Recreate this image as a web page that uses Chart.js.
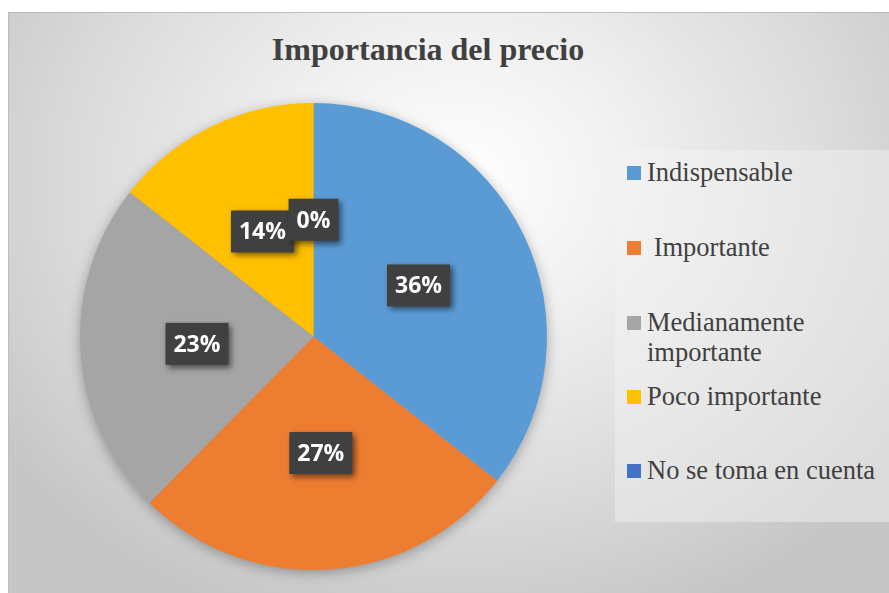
<!DOCTYPE html>
<html>
<head>
<meta charset="utf-8">
<script src="https://cdn.jsdelivr.net/npm/chart.js@4.4.0/dist/chart.umd.min.js"></script>
<style>
  html,body{margin:0;padding:0;background:#fff;width:889px;height:593px;overflow:hidden;}
  #frame{position:absolute;left:8px;top:12px;width:900px;height:600px;border:1px solid #bdbdbd;box-sizing:border-box;
    background:radial-gradient(ellipse 62% 78% at 50% 28%, #ffffff 0%, #f1f1f1 30%, #dadada 70%, #c6c6c6 100%);}
  #title{position:absolute;left:0;width:856px;top:31px;text-align:center;font:bold 32px "Liberation Serif","Times New Roman",serif;color:#404040;}
  #legend{position:absolute;left:615px;top:150px;width:290px;height:372px;background:rgba(244,244,244,0.45);}
  .li{position:absolute;left:0;font:26.5px/30px "Liberation Serif","Times New Roman",serif;color:#404040;white-space:pre-wrap;}
  .li i{position:absolute;left:12px;top:9px;width:14px;height:14px;}
  .li span{position:absolute;left:32px;top:0;width:240px;}
  canvas{position:absolute;left:0;top:0;}
</style>
</head>
<body>
<div id="frame"></div>
<div id="title">Importancia del precio</div>
<div id="legend"></div>
<canvas id="c" width="889" height="593"></canvas>
<script>
// ── data ──
const labels = ['Indispensable', ' Importante', 'Medianamente importante', 'Poco importante', 'No se toma en cuenta'];
const values = [35.6, 26.8, 23.2, 14.4, 0];
const colors = ['#5b9bd5', '#ed7d31', '#a5a5a5', '#ffc000', '#4472c4'];
// legend rows (top offsets inside the legend box)
const legendTops = [7, 82, 157, 231, 305];

// ── html legend ──
const lg = document.getElementById('legend');
labels.forEach((l, i) => {
  const d = document.createElement('div');
  d.className = 'li';
  d.style.top = legendTops[i] + 'px';
  d.innerHTML = `<i style="background:${colors[i]}"></i><span>${l}</span>`;
  lg.appendChild(d);
});

// soft shadow under the whole pie
const pieShadow = {
  id: 'pieShadow',
  beforeDatasetsDraw(chart) {
    const a = chart.getDatasetMeta(0).data[0];
    if (!a) return;
    const ctx = chart.ctx;
    ctx.save();
    ctx.shadowColor = 'rgba(0,0,0,0.35)';
    ctx.shadowBlur = 14;
    ctx.shadowOffsetY = 3;
    ctx.fillStyle = '#a5a5a5';
    ctx.beginPath();
    ctx.arc(a.x, a.y, a.outerRadius - 1, 0, Math.PI * 2);
    ctx.fill();
    ctx.restore();
  }
};

// dark boxed percentage labels
const boxLabels = {
  id: 'boxLabels',
  afterDatasetsDraw(chart) {
    const ctx = chart.ctx;
    const tot = values.reduce((s, v) => s + v, 0);
    ctx.save();
    ctx.font = 'bold 23px "Open Sans"';
    chart.getDatasetMeta(0).data.forEach((arc, i) => {
      const p = arc.getCenterPoint();
      const txt = Math.round(values[i] / tot * 100) + '%';
      const w = ctx.measureText(txt).width + 16, h = 42;
      ctx.save();
      ctx.shadowColor = 'rgba(0,0,0,0.55)';
      ctx.shadowBlur = 6;
      ctx.shadowOffsetX = 3;
      ctx.shadowOffsetY = 3;
      ctx.fillStyle = '#404040';
      ctx.fillRect(p.x - w / 2, p.y - h / 2, w, h);
      ctx.restore();
      ctx.fillStyle = '#ffffff';
      ctx.textAlign = 'center';
      ctx.textBaseline = 'alphabetic';
      ctx.fillText(txt, p.x, p.y + 8);
    });
    ctx.restore();
  }
};

function draw() {
  new Chart(document.getElementById('c'), {
    type: 'pie',
    data: { labels, datasets: [{ data: values, backgroundColor: colors, borderWidth: 0 }] },
    options: {
      responsive: false,
      animation: false,
      layout: { padding: { left: 80, right: 342, top: 103, bottom: 23 } },
      plugins: { legend: { display: false }, tooltip: { enabled: false }, title: { display: false } }
    },
    plugins: [pieShadow, boxLabels]
  });
}
document.fonts.load('bold 23px "Open Sans"').then(draw, draw);
</script>
</body>
</html>
